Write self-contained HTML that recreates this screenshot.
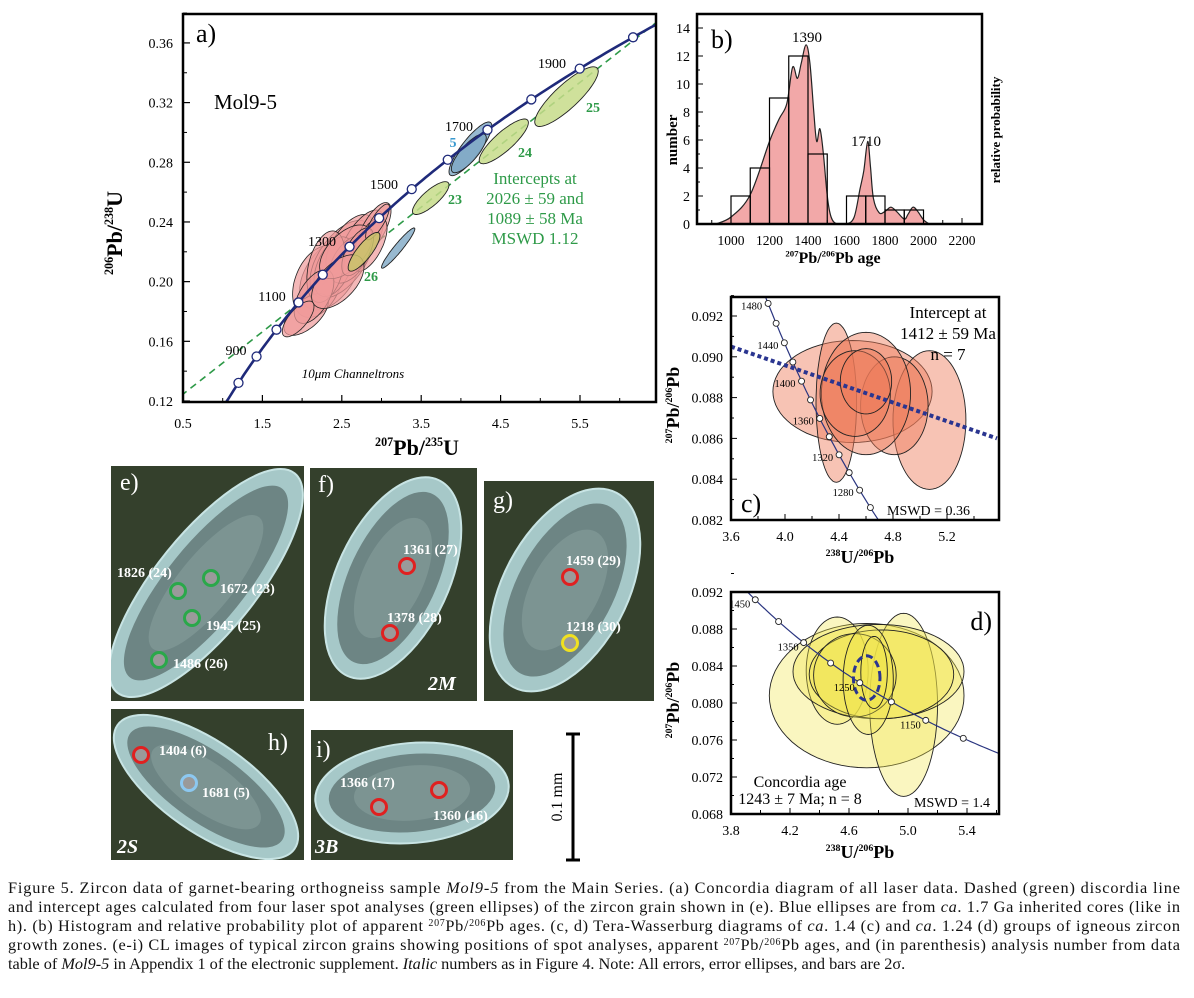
<!DOCTYPE html>
<html><head><meta charset="utf-8">
<style>
html,body{margin:0;padding:0;background:#fff;}
svg{display:block;font-family:"Liberation Serif",serif;}
</style></head>
<body>
<svg id="fig" width="1194" height="998" viewBox="0 0 1194 998" xmlns="http://www.w3.org/2000/svg">
<defs>
<clipPath id="clipA"><rect x="183" y="14" width="473" height="388"/></clipPath>
<clipPath id="clipC"><rect x="731" y="297" width="268" height="223"/></clipPath>
<clipPath id="clipD"><rect x="731" y="592" width="268" height="222"/></clipPath>
<clipPath id="clipB"><rect x="697" y="14" width="285" height="210"/></clipPath>
</defs>
<g id="panelA"></g>
<g id="panelB"></g>
<g id="panelC"></g>
<g id="panelD"></g>
<g id="photos"></g>
<g id="caption" font-size="16.3" fill="#111">
<text x="8" y="893" textLength="1172" lengthAdjust="spacing">Figure 5. Zircon data of garnet-bearing orthogneiss sample <tspan font-style="italic">Mol9-5</tspan> from the Main Series. (a) Concordia diagram of all laser data. Dashed (green) discordia line</text>
<text x="8" y="912" textLength="1172" lengthAdjust="spacing">and intercept ages calculated from four laser spot analyses (green ellipses) of the zircon grain shown in (e). Blue ellipses are from <tspan font-style="italic">ca</tspan>. 1.7 Ga inherited cores (like in</text>
<text x="8" y="931" textLength="1172" lengthAdjust="spacing">h). (b) Histogram and relative probability plot of apparent <tspan font-size="10" dy="-5">207</tspan><tspan dy="5">Pb/</tspan><tspan font-size="10" dy="-5">206</tspan><tspan dy="5">Pb ages. (c, d) Tera-Wasserburg diagrams of </tspan><tspan font-style="italic">ca</tspan>. 1.4 (c) and <tspan font-style="italic">ca</tspan>. 1.24 (d) groups of igneous zircon</text>
<text x="8" y="950" textLength="1172" lengthAdjust="spacing">growth zones. (e-i) CL images of typical zircon grains showing positions of spot analyses, apparent <tspan font-size="10" dy="-5">207</tspan><tspan dy="5">Pb/</tspan><tspan font-size="10" dy="-5">206</tspan><tspan dy="5">Pb ages, and (in parenthesis) analysis number from data</tspan></text>
<text x="8" y="969">table of <tspan font-style="italic">Mol9-5</tspan> in Appendix 1 of the electronic supplement. <tspan font-style="italic">Italic</tspan> numbers as in Figure 4. Note: All errors, error ellipses, and bars are 2σ.</text>
</g>
</svg>
<script>
// ---------- DATA ----------
// Panel a: ellipses [x, y, sx, sy, rho]
const redX  = [2.35,2.2,2.5,2.05,2.6,2.75,2.9,2.4,2.6,2.3,2.85,2.15,2.55,2.7,2.45,1.95,2.95];
const redY  = [0.205,0.2,0.215,0.178,0.225,0.228,0.235,0.21,0.215,0.21,0.225,0.19,0.22,0.22,0.2,0.175,0.24];
const redSX = [0.38,0.32,0.4,0.28,0.3,0.28,0.22,0.25,0.25,0.24,0.22,0.25,0.33,0.2,0.33,0.2,0.15];
const redSY = [0.024,0.024,0.026,0.014,0.02,0.02,0.018,0.02,0.016,0.024,0.018,0.018,0.018,0.016,0.018,0.012,0.012];
const redR  = [0.45,0.35,0.55,0.6,0.6,0.65,0.7,0.45,0.5,0.35,0.6,0.55,0.55,0.6,0.55,0.7,0.8];
const greenLabels = ["23","24","25","26"];
const greenX  = [3.62,4.54,5.33,2.78];
const greenY  = [0.256,0.294,0.324,0.22];
const greenSX = [0.23,0.31,0.4,0.2];
const greenSY = [0.011,0.015,0.02,0.013];
const greenR  = [0.8,0.84,0.85,0.82];
const blueX  = [4.12,4.1,3.21];
const blueY  = [0.289,0.286,0.2225];
const blueSX = [0.27,0.22,0.21];
const blueSY = [0.018,0.013,0.0135];
const blueR  = [0.85,0.8,0.95];
const concAgesA = [800,900,1000,1100,1200,1300,1400,1500,1600,1700,1800,1900,2000];
const discordiaAges = [1089,2026];
const aXTicks = [0.5,1.5,2.5,3.5,4.5,5.5];
const aYTicks = [0.12,0.16,0.20,0.24,0.28,0.32,0.36];
// Panel b
const binStart = [1000,1100,1200,1300,1400,1600,1700,1800,1900];
const binCount = [2,4,9,12,5,2,2,1,1];
const probAge = [920,1000,1100,1200,1250,1290,1320,1345,1365,1390,1410,1430,1445,1462,1480,1500,1520,1550,1600,1640,1670,1690,1710,1725,1740,1770,1800,1830,1860,1900,1920,1945,1970,2000,2030];
const probVal = [0,0.5,2.1,5.9,7.5,8.6,11.2,10.4,11.5,12.8,11.5,8,5.9,6.8,5,2,0.5,0,0,0.5,2.5,3.8,5.9,4,1.8,0.8,0.9,1.2,0.9,0.35,0.7,1.2,0.9,0.3,0];
const bXTicks = [1000,1200,1400,1600,1800,2000,2200];
const bYTicks = [0,2,4,6,8,10,12,14];
// Panel c
const cX  = [4.5,4.38,5.07,4.81,4.6,4.52,4.6];
const cY  = [0.0883,0.08775,0.0869,0.0876,0.0882,0.0882,0.0888];
const cSX = [0.59,0.15,0.27,0.25,0.33,0.26,0.19];
const cSY = [0.0025,0.0039,0.0034,0.0024,0.003,0.0021,0.0016];
const cLineX = [3.6,5.57];
const cLineY = [0.0905,0.0860];
const cMarks = [1260,1280,1300,1320,1340,1360,1380,1400,1420,1440,1460,1480];
const cLabelAges = [1480,1440,1400,1360,1320,1280];
const cXTicks = [3.6,4.0,4.4,4.8,5.2];
const cYTicks = [0.082,0.084,0.086,0.088,0.090,0.092];
// Panel d
const dX  = [4.72,4.97,4.52,4.8,4.82,4.64,4.73,4.77];
const dY  = [0.0808,0.0798,0.0835,0.0834,0.0831,0.083,0.0825,0.0833];
const dSX = [0.66,0.23,0.21,0.58,0.49,0.28,0.17,0.09];
const dSY = [0.0078,0.0099,0.0058,0.0051,0.0048,0.0045,0.0059,0.0039];
const dMeanX = [4.72], dMeanY = [0.0827], dMeanSX = [0.09], dMeanSY = [0.0024];
const dMarks = [1100,1150,1200,1250,1300,1350,1400,1450];
const dLabelAges = [1450,1350,1250,1150];
const dXTicks = [3.8,4.2,4.6,5.0,5.4];
const dYTicks = [0.068,0.072,0.076,0.080,0.084,0.088,0.092];

// ---------- helpers ----------
const NS = "http://www.w3.org/2000/svg";
function add(parent, tag, attrs, txt){
  const el = document.createElementNS(NS, tag);
  for (const k in attrs) el.setAttribute(k, attrs[k]);
  if (txt !== undefined) el.textContent = txt;
  parent.appendChild(el);
  return el;
}
const L238 = 1.55125e-10, L235 = 9.8485e-10;
function conc(t){ return [Math.exp(L235*t*1e6)-1, Math.exp(L238*t*1e6)-1]; }
function tw(t){ const c = conc(t); return [1/c[1], c[0]/(137.88*c[1])]; }
function ellPath(fx, fy, cx, cy, sx, sy, r){
  let d = "";
  const q = Math.sqrt(1 - r*r);
  for (let i=0;i<=72;i++){
    const t = i/72*2*Math.PI;
    const x = cx + sx*Math.cos(t);
    const y = cy + sy*(r*Math.cos(t) + q*Math.sin(t));
    d += (i?"L":"M") + fx(x).toFixed(1) + "," + fy(y).toFixed(1);
  }
  return d + "Z";
}
function smooth(pts){
  let d = "M"+pts[0][0]+","+pts[0][1];
  for (let i=0;i<pts.length-1;i++){
    const p0=pts[Math.max(0,i-1)], p1=pts[i], p2=pts[i+1], p3=pts[Math.min(pts.length-1,i+2)];
    const c1=[p1[0]+(p2[0]-p0[0])/6, p1[1]+(p2[1]-p0[1])/6];
    const c2=[p2[0]-(p3[0]-p1[0])/6, p2[1]-(p3[1]-p1[1])/6];
    d += "C"+c1[0].toFixed(1)+","+c1[1].toFixed(1)+" "+c2[0].toFixed(1)+","+c2[1].toFixed(1)+" "+p2[0].toFixed(1)+","+p2[1].toFixed(1);
  }
  return d;
}
function supLabel(parent, x, y, size, parts, rot, name){
  const t = add(parent, "text", {x:x, y:y, "font-size":size, "font-weight":"bold", "text-anchor":"middle", transform: rot ? "rotate(-90 "+x+" "+y+")" : ""});
  
  
  parts.forEach(p=>{
    if (p[1]) add(t, "tspan", {"font-size": size*0.55, dy: -size*0.4}, p[0]);
    else add(t, "tspan", {dy: size*0.4*(p[2]?1:0)}, p[0]);
  });
  return t;
}
function label(parent, x, y, txt, attrs, name){
  const a = Object.assign({x:x, y:y}, attrs||{});
  const t = add(parent, "text", a, txt);
  
  
  return t;
}

// ---------- PANEL A ----------
(function(){
  const g = document.getElementById("panelA");
  const X = x => 183 + (x-0.5)*79.4;
  const Y = y => 401 - (y-0.12)*1492;
  const clip = add(g, "g", {"clip-path":"url(#clipA)"});
  const p1 = conc(discordiaAges[0]), p2 = conc(discordiaAges[1]);
  const sl = (p2[1]-p1[1])/(p2[0]-p1[0]);
  const disc = add(clip, "line", {x1:X(0), y1:Y(p1[1]+sl*(0-p1[0])), x2:X(7), y2:Y(p1[1]+sl*(7-p1[0])), stroke:"#2e9a48", "stroke-width":1.6, "stroke-dasharray":"7,5"});
  
  
  for (let i=0;i<redX.length;i++){
    const e = add(clip, "path", {d: ellPath(X,Y,redX[i],redY[i],redSX[i],redSY[i],redR[i]), fill:"#f09a9a", "fill-opacity":0.7, stroke:"#222", "stroke-width":0.8});
    
    
  }
  for (let i=0;i<blueX.length;i++){
    const e = add(clip, "path", {d: ellPath(X,Y,blueX[i],blueY[i],blueSX[i],blueSY[i],blueR[i]), fill:"#7ea8c4", "fill-opacity":0.8, stroke:"#222", "stroke-width":0.9});
    
    
  }
  for (let i=0;i<greenX.length;i++){
    const e = add(clip, "path", {d: ellPath(X,Y,greenX[i],greenY[i],greenSX[i],greenSY[i],greenR[i]), fill: i==3?"#c9c46a":"#c7dc8a", "fill-opacity":0.85, stroke:"#222", "stroke-width":0.9});
    
    
  }
  const pts = [];
  for (let t=600;t<=2200;t+=10){ const c=conc(t); pts.push([X(c[0]),Y(c[1])]); }
  const cc = add(clip, "polyline", {points: pts.map(p=>p[0].toFixed(1)+","+p[1].toFixed(1)).join(" "), fill:"none", stroke:"#1f2a7a", "stroke-width":2.6});
  
  
  concAgesA.forEach(a=>{
    const c = conc(a);
    const m = add(clip, "circle", {cx:X(c[0]), cy:Y(c[1]), r:4.5, fill:"#fff", stroke:"#1f2a7a", "stroke-width":1.3});
    
    
  });
  const fr = add(g, "rect", {x:183, y:14, width:473, height:388, fill:"none", stroke:"#000", "stroke-width":2.5});
  
  
  aXTicks.forEach(v=>{
    add(g, "line", {x1:X(v), y1:402, x2:X(v), y2:395, stroke:"#000", "stroke-width":1.2});
    add(g, "line", {x1:X(v+0.5), y1:402, x2:X(v+0.5), y2:398, stroke:"#000", "stroke-width":1});
    label(g, X(v), 428, v.toFixed(1), {"font-size":14, "text-anchor":"middle"}, 'x-tick-label');
  });
  aYTicks.forEach(v=>{
    add(g, "line", {x1:183, y1:Y(v), x2:190, y2:Y(v), stroke:"#000", "stroke-width":1.2});
    add(g, "line", {x1:183, y1:Y(v+0.02), x2:187, y2:Y(v+0.02), stroke:"#000", "stroke-width":1});
    label(g, 173, Y(v)+5, v.toFixed(2), {"font-size":14, "text-anchor":"end"}, 'y-tick-label');
  });
  supLabel(g, 417, 455, 22, [["207",1],["Pb/",0,1],["235",1],["U",0,1]], false, 'x-axis-title');
  supLabel(g, 122, 233, 22, [["206",1],["Pb/",0,1],["238",1],["U",0,1]], true, 'y-axis-title');
  label(g, 196, 42, "a)", {"font-size":26}, 'panel-label-a');
  label(g, 214, 109, "Mol9-5", {"font-size":21}, 'sample-name');
  const ageLab = [["1900",552,68],["1700",459,131],["1500",384,189],["1300",322,246],["1100",272,301],["900",236,355]];
  ageLab.forEach(a=> label(g, a[1], a[2], a[0], {"font-size":14, "text-anchor":"middle"}, 'concordia-age-label'));
  label(g, 453, 147, "5", {"font-size":14, "font-weight":"bold", fill:"#3a9ad0", "text-anchor":"middle"}, 'ellipse-label-5');
  const gl = [["24",525,157],["23",455,204],["25",593,112],["26",371,281]];
  gl.forEach(a=> label(g, a[1], a[2], a[0], {"font-size":14, "font-weight":"bold", fill:"#2e9a48", "text-anchor":"middle"}, 'ellipse-label-'+a[0]));
  const it = ["Intercepts at","2026 ± 59 and","1089 ± 58 Ma","MSWD 1.12"];
  it.forEach((s,i)=> label(g, 535, 184+i*20, s, {"font-size":17, fill:"#2e9a48", "text-anchor":"middle"}, 'intercept-text'));
  label(g, 353, 378, "10μm Channeltrons", {"font-size":13, "font-style":"italic", "text-anchor":"middle"}, 'instrument-note');
})();

// ---------- PANEL B ----------
(function(){
  const g = document.getElementById("panelB");
  const X = a => 731 + (a-1000)*0.1925;
  const Y = n => 224 - n*14;
  const clip = add(g, "g", {"clip-path":"url(#clipB)"});
  const pts = probAge.map((a,i)=>[X(a),Y(probVal[i])]);
  const area = add(clip, "path", {d: smooth(pts)+"L"+X(2030)+","+Y(0)+"L"+X(920)+","+Y(0)+"Z", fill:"#f2a8a8", stroke:"none"});
  
  
  const curve = add(clip, "path", {d: smooth(pts), fill:"none", stroke:"#222", "stroke-width":1.2});
  
  
  binStart.forEach((b,i)=>{
    const r = add(clip, "rect", {x:X(b), y:Y(binCount[i]), width:X(b+100)-X(b), height:Y(0)-Y(binCount[i]), fill:"none", stroke:"#000", "stroke-width":1.2});
    
    
  });
  const fr = add(g, "rect", {x:697, y:14, width:285, height:210, fill:"none", stroke:"#000", "stroke-width":2.5});
  
  
  bXTicks.forEach(v=>{
    add(g, "line", {x1:X(v), y1:224, x2:X(v), y2:218, stroke:"#000"});
    add(g, "line", {x1:X(v-100), y1:224, x2:X(v-100), y2:220, stroke:"#000"});
    label(g, X(v), 245, String(v), {"font-size":13.5, "text-anchor":"middle"}, 'x-tick-label');
  });
  bYTicks.forEach(v=>{
    add(g, "line", {x1:697, y1:Y(v), x2:703, y2:Y(v), stroke:"#000"});
    add(g, "line", {x1:697, y1:Y(v+1), x2:700, y2:Y(v+1), stroke:"#000"});
    label(g, 690, Y(v)+5, String(v), {"font-size":14, "text-anchor":"end"}, 'y-tick-label');
  });
  supLabel(g, 833, 263, 16, [["207",1],["Pb/",0,1],["206",1],["Pb age",0,1]], false, 'x-axis-title');
  label(g, 677, 140, "number", {"font-size":15, "font-weight":"bold", "text-anchor":"middle", transform:"rotate(-90 677 140)"}, 'y-axis-title');
  label(g, 1000, 130, "relative probability", {"font-size":13, "font-weight":"bold", "text-anchor":"middle", transform:"rotate(-90 1000 130)"}, 'y2-axis-title');
  label(g, 711, 48, "b)", {"font-size":26}, 'panel-label-b');
  label(g, 807, 42, "1390", {"font-size":15, "text-anchor":"middle"}, 'peak-label-1390');
  label(g, 866, 146, "1710", {"font-size":15, "text-anchor":"middle"}, 'peak-label-1710');
})();

// ---------- PANEL C ----------
(function(){
  const g = document.getElementById("panelC");
  const X = x => 731 + (x-3.6)*135;
  const Y = y => 520 - (y-0.082)*20400;
  const clip = add(g, "g", {"clip-path":"url(#clipC)"});
  for (let i=0;i<cX.length;i++){
    const e = add(clip, "path", {d: ellPath(X,Y,cX[i],cY[i],cSX[i],cSY[i],0), fill:"#ee7a58", "fill-opacity":0.45, stroke:"#222", "stroke-width":0.9});
    
    
  }
  const pts = [];
  for (let t=1200;t<=1540;t+=5){ const c=tw(t); pts.push(X(c[0]).toFixed(1)+","+Y(c[1]).toFixed(1)); }
  const cc = add(clip, "polyline", {points: pts.join(" "), fill:"none", stroke:"#2a3580", "stroke-width":1.2});
  
  
  cMarks.forEach(a=>{
    const c = tw(a);
    const m = add(clip, "circle", {cx:X(c[0]), cy:Y(c[1]), r:3, fill:"#fff", stroke:"#222", "stroke-width":0.9});
    
    
  });
  const il = add(clip, "line", {x1:X(cLineX[0]), y1:Y(cLineY[0]), x2:X(cLineX[1]), y2:Y(cLineY[1]), stroke:"#2a3590", "stroke-width":4, "stroke-dasharray":"4,3"});
  
  
  cLabelAges.forEach(a=>{
    const c = tw(a);
    label(g, X(c[0])-6, Y(c[1])+6, String(a), {"font-size":10.5, "text-anchor":"end"}, 'concordia-age-label');
  });
  const fr = add(g, "rect", {x:731, y:297, width:268, height:223, fill:"none", stroke:"#000", "stroke-width":2.5});
  
  
  cXTicks.forEach(v=>{
    add(g, "line", {x1:X(v), y1:520, x2:X(v), y2:514, stroke:"#000"});
    add(g, "line", {x1:X(v+0.2), y1:520, x2:X(v+0.2), y2:516, stroke:"#000"});
    label(g, X(v), 541, v.toFixed(1), {"font-size":14, "text-anchor":"middle"}, 'x-tick-label');
  });
  cYTicks.forEach(v=>{
    add(g, "line", {x1:731, y1:Y(v), x2:737, y2:Y(v), stroke:"#000"});
    add(g, "line", {x1:731, y1:Y(v+0.001), x2:734, y2:Y(v+0.001), stroke:"#000"});
    label(g, 723, Y(v)+5, v.toFixed(3), {"font-size":14, "text-anchor":"end"}, 'y-tick-label');
  });
  supLabel(g, 860, 563, 18, [["238",1],["U/",0,1],["206",1],["Pb",0,1]], false, 'x-axis-title');
  supLabel(g, 679, 405, 18, [["207",1],["Pb/",0,1],["206",1],["Pb",0,1]], true, 'y-axis-title');
  ["Intercept at","1412 ± 59 Ma","n = 7"].forEach((s,i)=> label(g, 948, 318+i*21, s, {"font-size":17, "text-anchor":"middle"}, 'intercept-text'));
  label(g, 970, 515, "MSWD = 0.36", {"font-size":14, "text-anchor":"end"}, 'mswd-label');
  label(g, 741, 512, "c)", {"font-size":26}, 'panel-label-c');
})();

// ---------- PANEL D ----------
(function(){
  const g = document.getElementById("panelD");
  const X = x => 731 + (x-3.8)*147.5;
  const Y = y => 814 - (y-0.068)*9250;
  const clip = add(g, "g", {"clip-path":"url(#clipD)"});
  for (let i=0;i<dX.length;i++){
    const e = add(clip, "path", {d: ellPath(X,Y,dX[i],dY[i],dSX[i],dSY[i],0), fill:"#f2e64a", "fill-opacity":0.35, stroke:"#222", "stroke-width":0.9});
    
    
  }
  const pts = [];
  for (let t=1000;t<=1520;t+=5){ const c=tw(t); pts.push(X(c[0]).toFixed(1)+","+Y(c[1]).toFixed(1)); }
  const cc = add(clip, "polyline", {points: pts.join(" "), fill:"none", stroke:"#2a3580", "stroke-width":1.2});
  
  
  dMarks.forEach(a=>{
    const c = tw(a);
    const m = add(clip, "circle", {cx:X(c[0]), cy:Y(c[1]), r:3, fill:"#fff", stroke:"#222", "stroke-width":0.9});
    
    
  });
  const me = add(clip, "path", {d: ellPath(X,Y,dMeanX[0],dMeanY[0],dMeanSX[0],dMeanSY[0],0), fill:"none", stroke:"#2a3590", "stroke-width":3, "stroke-dasharray":"7,4"});
  
  
  dLabelAges.forEach(a=>{
    const c = tw(a);
    label(g, X(c[0])-5, Y(c[1])+8, String(a), {"font-size":10.5, "text-anchor":"end"}, 'concordia-age-label');
  });
  const fr = add(g, "rect", {x:731, y:592, width:268, height:222, fill:"none", stroke:"#000", "stroke-width":2.5});
  
  
  dXTicks.forEach(v=>{
    add(g, "line", {x1:X(v), y1:814, x2:X(v), y2:808, stroke:"#000"});
    add(g, "line", {x1:X(v+0.2), y1:814, x2:X(v+0.2), y2:810, stroke:"#000"});
    label(g, X(v), 835, v.toFixed(1), {"font-size":14, "text-anchor":"middle"}, 'x-tick-label');
  });
  dYTicks.forEach(v=>{
    add(g, "line", {x1:731, y1:Y(v), x2:737, y2:Y(v), stroke:"#000"});
    add(g, "line", {x1:731, y1:Y(v+0.002), x2:734, y2:Y(v+0.002), stroke:"#000"});
    label(g, 723, Y(v)+5, v.toFixed(3), {"font-size":14, "text-anchor":"end"}, 'y-tick-label');
  });
  supLabel(g, 860, 858, 18, [["238",1],["U/",0,1],["206",1],["Pb",0,1]], false, 'x-axis-title');
  supLabel(g, 679, 700, 18, [["207",1],["Pb/",0,1],["206",1],["Pb",0,1]], true, 'y-axis-title');
  label(g, 992, 630, "d)", {"font-size":26, "text-anchor":"end"}, 'panel-label-d');
  label(g, 800, 787, "Concordia age", {"font-size":16, "text-anchor":"middle"}, 'concordia-age-title');
  label(g, 800, 804, "1243 ± 7 Ma; n = 8", {"font-size":16, "text-anchor":"middle"}, 'concordia-age-value');
  label(g, 990, 807, "MSWD = 1.4", {"font-size":14, "text-anchor":"end"}, 'mswd-label');
})();

// ---------- PHOTOS ----------
(function(){
  const g = document.getElementById("photos");
  const panels = [
    {n:"e", x:111,y:466,w:193,h:235, gx:206,gy:583,a:141,b:50,rot:-51, lab:[120,490]},
    {n:"f", x:310,y:468,w:167,h:233, gx:393,gy:578,a:108,b:56,rot:-65, lab:[318,492]},
    {n:"g", x:484,y:481,w:170,h:220, gx:565,gy:590,a:110,b:62,rot:-62, lab:[493,508]},
    {n:"h", x:111,y:709,w:193,h:151, gx:206,gy:787,a:108,b:45,rot:35, lab:[268,750]},
    {n:"i", x:311,y:730,w:202,h:130, gx:412,gy:793,a:97,b:50,rot:-5, lab:[316,757]}
  ];
  panels.forEach(p=>{
    const pg = add(g, "g", {});
    
    
    add(pg, "rect", {x:p.x, y:p.y, width:p.w, height:p.h, fill:"#34402c"});
    const cp = add(pg, "clipPath", {id:"cp"+p.n});
    add(cp, "rect", {x:p.x, y:p.y, width:p.w, height:p.h});
    const inner = add(pg, "g", {"clip-path":"url(#cp"+p.n+")"});
    const tr = "rotate("+p.rot+" "+p.gx+" "+p.gy+")";
    const grain = add(inner, "ellipse", {cx:p.gx, cy:p.gy, rx:p.a, ry:p.b, transform:tr, fill:"#a6c8c8", stroke:"#c8e4e4", "stroke-width":2});
    
    
    add(inner, "ellipse", {cx:p.gx, cy:p.gy, rx:p.a*0.86, ry:p.b*0.78, transform:tr, fill:"#6d8584"});
    add(inner, "ellipse", {cx:p.gx, cy:p.gy, rx:p.a*0.6, ry:p.b*0.55, transform:tr, fill:"#7f9796", "fill-opacity":0.8});
    label(pg, p.lab[0], p.lab[1], p.n+")", {"font-size":24, fill:"#fff"}, 'panel-label-'+p.n);
  });
  const spotX = [178,211,192,159,407,390,570,570,141,189,379,439];
  const spotY = [591,578,618,660,566,633,577,643,755,783,807,790];
  const spotC = ["#2aa84a","#2aa84a","#2aa84a","#2aa84a","#e02020","#e02020","#e02020","#f0e020","#e02020","#8cc8f0","#e02020","#e02020"];
  spotX.forEach((x,i)=>{
    const c = add(g, "circle", {cx:x, cy:spotY[i], r:7.5, fill:"#9a9a9a", stroke:spotC[i], "stroke-width":3});
    
    
  });
  const labs = [["1826 (24)",117,577],["1672 (23)",220,593],["1945 (25)",206,630],["1486 (26)",173,668],
    ["1361 (27)",403,554],["1378 (28)",387,622],["1459 (29)",566,565],["1218 (30)",566,631],
    ["1404 (6)",159,755],["1681 (5)",202,797],["1366 (17)",340,787],["1360 (16)",433,820]];
  labs.forEach(l=> label(g, l[1], l[2], l[0], {"font-size":14, "font-weight":"bold", fill:"#fff"}, 'spot-age-label'));
  [["2M",428,690],["2S",117,853],["3B",315,853]].forEach(l=> label(g, l[1], l[2], l[0], {"font-size":20, "font-weight":"bold", "font-style":"italic", fill:"#fff"}, 'grain-id-label'));
  const sb = add(g, "g", {});
  
  
  add(sb, "line", {x1:573, y1:734, x2:573, y2:860, stroke:"#000", "stroke-width":3});
  add(sb, "line", {x1:566, y1:734, x2:580, y2:734, stroke:"#000", "stroke-width":3});
  add(sb, "line", {x1:566, y1:860, x2:580, y2:860, stroke:"#000", "stroke-width":3});
  label(sb, 562, 797, "0.1 mm", {"font-size":16, "text-anchor":"middle", transform:"rotate(-90 562 797)"}, 'scale-bar-label');
})();
</script>
</body></html>
